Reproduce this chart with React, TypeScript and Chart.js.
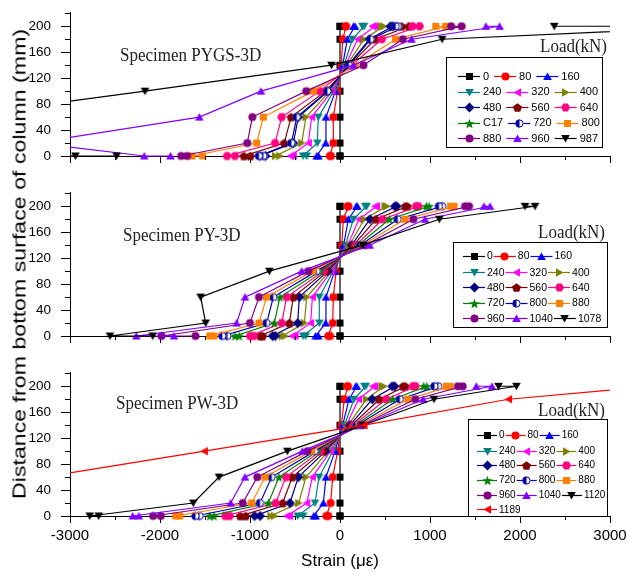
import React, { useEffect, useRef } from 'react';
import { Chart, registerables } from 'chart.js';

Chart.register(...registerables);
Chart.defaults.font.family = '"Liberation Sans", Arial, sans-serif';
Chart.defaults.color = '#000';

// gauge heights (mm): two gauges at 0, then 20..180, two gauges at 200
const HEIGHTS = [0, 0, 20, 60, 100, 140, 180, 200, 200];
const X_TICKS = [-3000, -2000, -1000, 0, 1000, 2000, 3000];
const X_MINOR = [-2500, -1500, -500, 500, 1500, 2500];
const Y_TICKS = [0, 40, 80, 120, 160, 200];
const Y_MINOR = [20, 60, 100, 140, 180, 220];

// Specimen PYGS-3D
const PYGS_LOADS = ['0', '80', '160', '240', '320', '400', '480', '560', '640', 'C17', '720', '800', '880', '960', '987'];
const PYGS_STRAIN = [
  [0, 0, 0, 0, 0, 0, 0, 0, 0],
  [-100, -112, -74, -74, -28, 15, 30, 68, 60],
  [-240, -259, -159, -156, -50, 30, 81, 167, 150],
  [-370, -410, -252, -241, -70, 45, 138, 267, 250],
  [-520, -550, -352, -315, -90, 60, 196, 386, 360],
  [-669, -717, -426, -378, -110, 75, 267, 486, 460],
  [-829, -888, -519, -463, -130, 90, 328, 586, 560],
  [-996, -1068, -619, -544, -160, 110, 390, 765, 685],
  [-1167, -1255, -722, -648, -225, 130, 464, 884, 805],
  [],
  [-850, -900, -540, -480, -140, 100, 340, 645, 620],
  [-1526, -1645, -926, -852, -296, 170, 616, 1175, 1064],
  [-1700, -1765, -1030, -974, -375, 260, 698, 1351, 1235],
  [-1884, -2175, -3393, -1563, -878, 150, 795, 1773, 1622],
  [-2482, -2940, -6000, -4345, -2167, -95, 1135, 4323, 2380],
];

// Specimen PY-3D
const PY_LOADS = ['0', '80', '160', '240', '320', '400', '480', '560', '640', '720', '800', '880', '960', '1040', '1078'];
const PY_STRAIN = [
  [0, 0, 0, 0, 0, 0, 0, 0, 0],
  [-110, -131, -81, -74, -44, 20, 37, 93, 85],
  [-240, -271, -159, -156, -60, 40, 93, 193, 180],
  [-380, -410, -230, -230, -75, 60, 148, 296, 280],
  [-500, -530, -326, -307, -95, 85, 211, 407, 390],
  [-610, -640, -396, -370, -115, 105, 270, 519, 500],
  [-720, -749, -470, -452, -135, 130, 333, 630, 610],
  [-860, -888, -563, -519, -160, 150, 400, 748, 725],
  [-960, -1000, -648, -593, -185, 175, 474, 870, 845],
  [-1120, -1167, -730, -667, -222, 200, 548, 989, 960],
  [-1250, -1307, -815, -741, -259, 225, 641, 1137, 1100],
  [-1400, -1446, -900, -815, -304, 250, 722, 1267, 1230],
  [-1606, -1984, -1000, -900, -352, 280, 815, 1433, 1389],
  [-1845, -2263, -1148, -1056, -426, 330, 944, 1667, 1600],
  [-2081, -2556, -1493, -1548, -785, 252, 1104, 2167, 2056],
];

// Specimen PW-3D
const PW_LOADS = ['0', '80', '160', '240', '320', '400', '480', '560', '640', '720', '800', '880', '960', '1040', '1120', '1189'];
const PW_STRAIN = [
  [0, 0, 0, 0, 0, 0, 0, 0, 0],
  [-130, -151, -104, -81, -26, 15, 48, 88, 80],
  [-270, -291, -185, -156, -55, 30, 100, 187, 175],
  [-410, -470, -278, -233, -80, 50, 155, 287, 270],
  [-560, -590, -370, -307, -105, 70, 207, 386, 365],
  [-729, -769, -459, -378, -130, 90, 295, 486, 465],
  [-888, -948, -556, -463, -160, 110, 359, 606, 580],
  [-1048, -1108, -637, -530, -190, 130, 438, 725, 700],
  [-1227, -1275, -715, -600, -220, 150, 514, 837, 810],
  [-1400, -1446, -796, -678, -250, 170, 586, 964, 930],
  [-1560, -1606, -889, -759, -280, 190, 665, 1092, 1050],
  [-1780, -1825, -981, -833, -320, 210, 753, 1223, 1180],
  [-1992, -2076, -1081, -919, -363, 230, 837, 1363, 1310],
  [-2235, -2303, -1215, -1056, -419, 250, 924, 1689, 1514],
  [-2681, -2781, -1630, -1344, -585, 259, 1044, 1960, 1761],
  [-9500, -9000, -8000, -3290, -1507, 267, 1873, 3483, 3300],
];

// series colour / marker shape, by position in the legend
const STYLE: [string, string][] = [
  ['#000000', 'square'], ['#FF0000', 'circle'], ['#0000FF', 'up'], ['#008080', 'down'],
  ['#FF00FF', 'left'], ['#808000', 'right'], ['#000080', 'diamond'], ['#800000', 'pentagon'],
  ['#FF0080', 'hexagon'], ['#008000', 'star'], ['#0000A0', 'half'], ['#FF8000', 'square'],
  ['#800080', 'circle'], ['#8000FF', 'up'], ['#000000', 'down'], ['#FF0000', 'left'],
];

function polygon(ctx: CanvasRenderingContext2D, cx: number, cy: number, r: number, n: number, startDeg: number) {
  for (let i = 0; i < n; i++) {
    const a = (startDeg + (360 / n) * i) * Math.PI / 180;
    const px = cx + r * Math.cos(a);
    const py = cy + r * Math.sin(a);
    if (i === 0) ctx.moveTo(px, py); else ctx.lineTo(px, py);
  }
  ctx.closePath();
}

function makeMarker(color: string, shape: string): HTMLCanvasElement {
  const s = 11;
  const c = document.createElement('canvas');
  c.width = s; c.height = s;
  const ctx = c.getContext('2d')!;
  const cx = s / 2, cy = s / 2;
  ctx.fillStyle = color; ctx.strokeStyle = color; ctx.lineWidth = 1;
  ctx.beginPath();
  switch (shape) {
    case 'square': ctx.rect(cx - 3.5, cy - 3.5, 7, 7); break;
    case 'circle': ctx.arc(cx, cy, 4, 0, Math.PI * 2); break;
    case 'up': polygon(ctx, cx, cy + 1, 5, 3, -90); break;
    case 'down': polygon(ctx, cx, cy - 1, 5, 3, 90); break;
    case 'left': polygon(ctx, cx + 1, cy, 5, 3, 180); break;
    case 'right': polygon(ctx, cx - 1, cy, 5, 3, 0); break;
    case 'diamond': polygon(ctx, cx, cy, 5, 4, -90); break;
    case 'pentagon': polygon(ctx, cx, cy + 0.5, 4.7, 5, -90); break;
    case 'hexagon': polygon(ctx, cx, cy, 4.5, 6, 0); break;
    case 'star': {
      for (let i = 0; i < 10; i++) {
        const r = i % 2 === 0 ? 5.3 : 2.2;
        const a = (-90 + 36 * i) * Math.PI / 180;
        const px = cx + r * Math.cos(a), py = cy + 0.5 + r * Math.sin(a);
        if (i === 0) ctx.moveTo(px, py); else ctx.lineTo(px, py);
      }
      ctx.closePath();
      break;
    }
    case 'half': {
      ctx.arc(cx, cy, 4, 0, Math.PI * 2);
      ctx.fillStyle = '#fff'; ctx.fill();
      ctx.beginPath();
      ctx.arc(cx, cy, 4, Math.PI / 2, Math.PI * 1.5);
      ctx.closePath();
      ctx.fillStyle = color; ctx.fill();
      ctx.beginPath();
      ctx.arc(cx, cy, 3.6, 0, Math.PI * 2);
      ctx.stroke();
      return c;
    }
  }
  ctx.fill();
  return c;
}

interface LegendCfg {
  box: [number, number, number, number];
  x0: number; rows: number[]; lineLen: number; gapLT: number; gapTL: number; font: number;
}

interface PanelCfg {
  top: number; height: number; xH: number; showX: boolean;
  labels: string[]; strain: number[][]; legend: LegendCfg;
}

function buildChart(canvas: HTMLCanvasElement, p: PanelCfg) {
  const markers = p.labels.map((_, i) => makeMarker(STYLE[i][0], STYLE[i][1]));
  const datasets = p.labels.map((lab, i) => ({
    label: lab,
    data: p.strain[i].map((x, k) => ({ x, y: HEIGHTS[k] })),
    showLine: true,
    borderColor: STYLE[i][0],
    backgroundColor: STYLE[i][0],
    borderWidth: 1.2,
    pointStyle: markers[i],
    pointRadius: 4,
    pointHoverRadius: 4,
    tension: 0,
    clip: { left: 0, right: 0, top: 6, bottom: 8 },
    order: -i,
  }));

  const decor = {
    id: 'decor',
    afterDatasetsDraw(chart: any) {
      const ctx: CanvasRenderingContext2D = chart.ctx;
      const L = p.legend;
      const off = p.top;
      ctx.save();
      const [l, t, r, b] = L.box;
      ctx.fillStyle = '#fff';
      ctx.fillRect(l, t - off, r - l, b - t);
      ctx.strokeStyle = '#000';
      ctx.lineWidth = 1;
      ctx.strokeRect(Math.round(l) + 0.5, Math.round(t - off) + 0.5, Math.round(r - l), Math.round(b - t));
      ctx.font = `${L.font}px "Liberation Sans", Arial, sans-serif`;
      ctx.textBaseline = 'middle';
      ctx.textAlign = 'left';
      let x = L.x0;
      p.labels.forEach((lab, i) => {
        const row = Math.floor(i / 3);
        if (i % 3 === 0) x = L.x0;
        const y = L.rows[row] - off;
        ctx.strokeStyle = STYLE[i][0];
        ctx.lineWidth = 1.2;
        ctx.beginPath();
        ctx.moveTo(x, Math.round(y) + 0.5);
        ctx.lineTo(x + L.lineLen, Math.round(y) + 0.5);
        ctx.stroke();
        const m = markers[i];
        ctx.drawImage(m, Math.round(x + L.lineLen / 2 - m.width / 2), Math.round(y) + 0.5 - m.height / 2);
        x += L.lineLen + L.gapLT;
        ctx.fillStyle = '#000';
        ctx.fillText(lab, x, y + 0.5);
        x += ctx.measureText(lab).width + L.gapTL;
      });
      ctx.restore();
    },
    afterDraw(chart: any) {
      const ctx: CanvasRenderingContext2D = chart.ctx;
      const xs = chart.scales.x, ys = chart.scales.y;
      const area = chart.chartArea;
      ctx.save();
      ctx.strokeStyle = '#000';
      ctx.lineWidth = 1;
      ctx.beginPath();
      X_MINOR.forEach((v) => {
        const px = Math.round(xs.getPixelForValue(v)) + 0.5;
        ctx.moveTo(px, area.bottom);
        ctx.lineTo(px, area.bottom + 4);
      });
      Y_MINOR.forEach((v) => {
        const py = Math.round(ys.getPixelForValue(v)) + 0.5;
        ctx.moveTo(area.left, py);
        ctx.lineTo(area.left - 5, py);
      });
      ctx.stroke();
      ctx.restore();
    },
  };

  return new Chart(canvas, {
    type: 'scatter',
    data: { datasets } as any,
    options: {
      responsive: false,
      animation: false,
      events: [],
      layout: { padding: { left: 0, top: 12, right: 18, bottom: 0 } },
      plugins: { legend: { display: false }, tooltip: { enabled: false } },
      scales: {
        x: {
          type: 'linear',
          position: 'bottom',
          min: -3000,
          max: 3000,
          afterBuildTicks: (s: any) => { s.ticks = X_TICKS.map((v) => ({ value: v })); },
          ticks: { display: p.showX, callback: (v: any) => String(v), font: { size: 15 }, color: '#000', padding: 4, maxRotation: 0, autoSkip: false },
          grid: { display: true, drawOnChartArea: false, drawTicks: true, tickLength: 7, color: '#000', lineWidth: 1 },
          border: { display: true, color: '#000', width: 1 },
          title: { display: p.showX, text: 'Strain (με)', font: { size: 17 }, color: '#000', padding: { top: 2, bottom: 3 } },
          afterFit: (s: any) => { s.height = p.xH; s.paddingLeft = 0; s.paddingRight = 0; },
        },
        y: {
          type: 'linear',
          min: 0,
          max: 222,
          afterBuildTicks: (s: any) => { s.ticks = Y_TICKS.map((v) => ({ value: v })); },
          ticks: { callback: (v: any) => String(v), font: { size: 13.5 }, color: '#000', padding: 10 },
          grid: { display: true, drawOnChartArea: false, drawTicks: true, tickLength: 9, color: '#000', lineWidth: 1 },
          border: { display: true, color: '#000', width: 1 },
          afterFit: (s: any) => { s.width = 70; s.paddingTop = 0; s.paddingBottom = 0; },
        },
      },
    } as any,
    plugins: [decor],
  });
}

const PANELS: PanelCfg[] = [
  {
    top: 0, height: 170, xH: 14, showX: false, labels: PYGS_LOADS, strain: PYGS_STRAIN,
    legend: { box: [446, 57, 602, 147], x0: 458, rows: [76, 91.7, 107.3, 122.7, 138], lineLen: 22, gapLT: 3, gapTL: 5, font: 11 },
  },
  {
    top: 180, height: 170, xH: 14, showX: false, labels: PY_LOADS, strain: PY_STRAIN,
    legend: { box: [453, 242, 607, 327], x0: 463, rows: [256, 272.3, 287.3, 302.7, 318.3], lineLen: 22, gapLT: 2, gapTL: 1, font: 10.5 },
  },
  {
    top: 360, height: 215, xH: 59, showX: true, labels: PW_LOADS, strain: PW_STRAIN,
    legend: { box: [468, 419, 607, 516], x0: 477, rows: [435, 450.7, 465, 480, 495, 509.3], lineLen: 20, gapLT: 2, gapTL: 1, font: 10 },
  },
];

const serif = '"Liberation Serif", "Times New Roman", serif';

function Label({ text, left, top }: { text: string; left: number; top: number }) {
  return (
    <div
      style={{
        position: 'absolute', left, top, fontFamily: serif, fontSize: 17, lineHeight: '17px',
        whiteSpace: 'nowrap', color: '#222', transform: 'scaleY(1.12)', transformOrigin: 'left top',
      }}
    >
      {text}
    </div>
  );
}

export default function App() {
  const r1 = useRef<HTMLCanvasElement>(null);
  const r2 = useRef<HTMLCanvasElement>(null);
  const r3 = useRef<HTMLCanvasElement>(null);

  useEffect(() => {
    const refs = [r1, r2, r3];
    const charts = PANELS.map((p, i) => buildChart(refs[i].current!, p));
    return () => charts.forEach((c) => c.destroy());
  }, []);

  const refs = [r1, r2, r3];
  return (
    <div style={{ position: 'fixed', left: 0, top: 0, width: 628, height: 575, background: '#fff', overflow: 'hidden' }}>
      {PANELS.map((p, i) => (
        <canvas
          key={i}
          ref={refs[i]}
          width={628}
          height={p.height}
          style={{ position: 'absolute', left: 0, top: p.top, width: 628, height: p.height }}
        />
      ))}
      <Label text="Specimen PYGS-3D" left={120} top={45} />
      <Label text="Load(kN)" left={540} top={36} />
      <Label text="Specimen PY-3D" left={123} top={225} />
      <Label text="Load(kN)" left={538} top={222} />
      <Label text="Specimen PW-3D" left={116} top={393} />
      <Label text="Load(kN)" left={538} top={400} />
      <div
        style={{
          position: 'absolute', left: 19, top: 264, whiteSpace: 'nowrap',
          fontFamily: '"Liberation Sans", Arial, sans-serif', fontSize: 19, lineHeight: '19px', color: '#000',
          transform: 'translate(-50%, -50%) rotate(-90deg) scaleX(1.22)',
        }}
      >
        Distance from bottom surface of column (mm)
      </div>
    </div>
  );
}
